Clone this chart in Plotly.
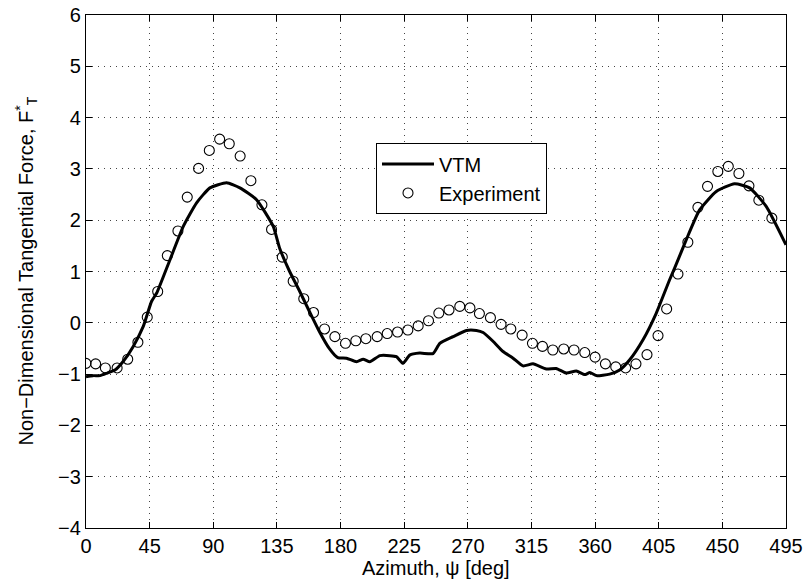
import plotly.graph_objects as go

# VTM (line) data
vtm_x = [0, 5, 10, 15, 20.5, 26.4, 33.4, 40.5, 46.4, 50, 59.4, 68.8, 78.2, 87.6, 99.4, 108.8,
         120.6, 132.4, 137, 144, 151, 158, 165, 172, 178, 184.2, 191.3, 196, 200.7,
         207.8, 214.8, 219.5, 224.2, 228.9, 236, 245.4, 250.2, 259.6, 269, 276.1, 280.8, 287.8,
         294.9, 302, 309, 316.1, 325.5, 332.5, 339.7, 346.7, 352.7, 356.3, 360.9, 370.3, 377.4,
         384.5, 393.9, 403.3, 412.7, 416.3, 424.5, 433.9, 445.7, 458.6, 469.3, 481, 495]
vtm_y = [-1.05, -1.03, -1.03, -0.98, -0.92, -0.75, -0.46, -0.07, 0.42, 0.58, 1.23, 1.88, 2.34,
         2.63, 2.73, 2.63, 2.40, 1.88, 1.45, 1.0, 0.62, 0.22, -0.17, -0.50, -0.68, -0.69,
         -0.76, -0.71, -0.76, -0.64, -0.64, -0.66, -0.79, -0.63, -0.59, -0.60, -0.40, -0.27,
         -0.15, -0.15, -0.19, -0.36, -0.56, -0.69, -0.84, -0.80, -0.90, -0.89, -0.98, -0.94,
         -1.01, -0.97, -1.03, -1.00, -0.92, -0.72, -0.33, 0.19, 0.84, 1.07, 1.62, 2.20, 2.56,
         2.71, 2.63, 2.27, 1.52]

# Experiment data
exp_x = [0, 6.8, 13.7, 22, 29.5, 36.7, 43.3, 50.7, 57.5, 65, 71.6, 79.6, 87.2, 94.5, 101.3,
         109, 116.6, 124.4, 131.2, 138.8, 146.5, 154, 160.9, 168.7, 176, 183.5, 190.8, 197.9,
         205.9, 213, 220.3, 227.6, 234.9, 242.2, 249.5, 256.7, 264.3, 271.5, 278.2, 286,
         293.5, 300.4, 308.4, 315.7, 322.8, 330.1, 337.8, 345.1, 352.7, 360, 367.3, 374.6,
         381.6, 388.9, 396.7, 404.5, 410.6, 418.6, 425.6, 432.7, 439.5, 446.8, 454.2, 461.7,
         468.8, 475.8, 485]
exp_y = [-0.79, -0.80, -0.88, -0.88, -0.71, -0.38, 0.11, 0.61, 1.31, 1.79, 2.45, 3.01, 3.36,
         3.58, 3.49, 3.25, 2.77, 2.30, 1.82, 1.28, 0.81, 0.47, 0.20, -0.12, -0.27, -0.40,
         -0.35, -0.31, -0.27, -0.21, -0.18, -0.14, -0.06, 0.04, 0.19, 0.25, 0.32, 0.29, 0.18,
         0.10, -0.03, -0.12, -0.24, -0.40, -0.46, -0.53, -0.51, -0.53, -0.58, -0.67, -0.80,
         -0.86, -0.88, -0.80, -0.62, -0.25, 0.27, 0.95, 1.57, 2.25, 2.66, 2.95, 3.05, 2.91,
         2.67, 2.39, 2.04]

x_ticks = [0, 45, 90, 135, 180, 225, 270, 315, 360, 405, 450, 495]
y_ticks = [-4, -3, -2, -1, 0, 1, 2, 3, 4, 5, 6]
y_tick_labels = [("\u2212" + str(-v)) if v < 0 else str(v) for v in y_ticks]

x_title = "Azimuth, \u03c8 [deg]"
y_title = "Non\u2212Dimensional Tangential Force, F<sup>*</sup><sub>T</sub>"

font_family = "Liberation Sans, Arial, sans-serif"
FS = 20

fig = go.Figure()
fig.add_trace(go.Scatter(x=vtm_x, y=vtm_y, mode="lines", name="VTM",
                         line=dict(color="black", width=3, shape="spline", smoothing=0.5)))
fig.add_trace(go.Scatter(x=exp_x, y=exp_y, mode="markers", name="Experiment",
                         marker=dict(symbol="circle-open", size=10, color="black",
                                     line=dict(width=1.1, color="black"))))

axis_common = dict(showline=True, linecolor="black", linewidth=1.2, mirror="ticks",
                   ticks="inside", ticklen=6, tickcolor="black", zeroline=False,
                   automargin=False,
                   showgrid=True, gridcolor="#444444", griddash="1px,5px", gridwidth=1,
                   tickfont=dict(family=font_family, size=FS, color="black"))

fig.update_xaxes(range=[0, 495], tickvals=x_ticks, ticktext=[str(v) for v in x_ticks],
                 **axis_common)
fig.update_yaxes(range=[-4, 6], tickvals=y_ticks, ticktext=y_tick_labels,
                 **axis_common)

fig.add_annotation(text=x_title, xref="paper", yref="paper", x=0.5, y=0,
                   xanchor="center", yanchor="top", yshift=-27, showarrow=False,
                   font=dict(family=font_family, size=FS, color="black"))
fig.add_annotation(text=y_title, xref="paper", yref="paper", x=0, y=0.5,
                   xanchor="center", yanchor="middle", xshift=-60, textangle=-90,
                   showarrow=False,
                   font=dict(family=font_family, size=FS, color="black"))

fig.update_layout(
    width=810, height=586,
    margin=dict(l=86, r=24, t=15, b=58),
    plot_bgcolor="white", paper_bgcolor="white",
    font=dict(family=font_family, size=FS, color="black"),
    showlegend=True,
    legend=dict(x=0.414, y=0.75, xanchor="left", yanchor="top",
                bgcolor="white", bordercolor="black", borderwidth=1.2,
                font=dict(family=font_family, size=FS, color="black"),
                itemwidth=52, tracegroupgap=0),
)

fig.write_html("out.html", config={"displayModeBar": False},
               post_script="document.body.style.margin='0';document.body.style.overflow='hidden';")
